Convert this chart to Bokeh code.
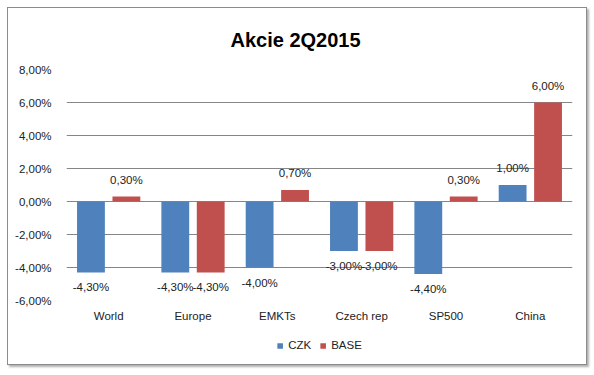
from bokeh.plotting import figure
from bokeh.layouts import column
from bokeh.models import ColumnDataSource, FixedTicker, Range1d, FactorRange, Legend, LegendItem
from bokeh.transform import dodge
from bokeh.core.properties import value
from bokeh.embed import file_html
from bokeh.resources import INLINE

categories = ["World", "Europe", "EMKTs", "Czech rep", "SP500", "China"]
czk = [-4.30, -4.30, -4.00, -3.00, -4.40, 1.00]
base = [0.30, -4.30, 0.70, -3.00, 0.30, 6.00]
y_ticks = [-6, -4, -2, 0, 2, 4, 6, 8]
series_names = ["CZK", "BASE"]
title_text = "Akcie 2Q2015"


def pct(v):
    return f"{v:.2f}".replace(".", ",") + "%"


FONT = "Liberation Sans"
BLUE = "#4F81BD"
RED = "#C0504D"
TXT = "#222222"

p = figure(
    x_range=FactorRange(*categories, range_padding=0),
    y_range=Range1d(-6, 8),
    width=578, height=318,
    output_backend="svg", toolbar_location=None,
    min_border_left=58, min_border_right=14, min_border_top=55, min_border_bottom=26,
)

p.title.text = title_text
p.title.align = "left"
p.title.offset = 164
p.title.text_font = FONT
p.title.text_font_size = "20px"
p.title.text_font_style = "bold"
p.title.text_color = "#000000"
p.title.standoff = 37

src = ColumnDataSource(dict(cat=categories, czk=czk, base=base))

r1 = p.vbar(x=dodge("cat", -0.21, range=p.x_range), top="czk", bottom=0, width=0.33,
            source=src, fill_color=BLUE, line_color=None)
r2 = p.vbar(x=dodge("cat", 0.21, range=p.x_range), top="base", bottom=0, width=0.33,
            source=src, fill_color=RED, line_color=None)

for vals, dx in ((czk, -0.21), (base, 0.21)):
    for positive in (True, False):
        idx = [i for i, v in enumerate(vals) if (v >= 0) == positive]
        s = ColumnDataSource(dict(cat=[categories[i] for i in idx],
                                  y=[vals[i] for i in idx],
                                  t=[pct(vals[i]) for i in idx]))
        p.text(x=dodge("cat", dx, range=p.x_range), y="y", text="t", source=s,
               text_align="center", text_baseline="middle",
               y_offset=-17 if positive else 15,
               text_font=value(FONT), text_font_size="11.5px", text_color=TXT)

p.yaxis.ticker = FixedTicker(ticks=y_ticks)
p.yaxis.major_label_overrides = {t: pct(t) for t in y_ticks}
p.yaxis.axis_line_color = None
p.yaxis.major_tick_line_color = None
p.yaxis.minor_tick_line_color = None
p.yaxis.major_label_standoff = 9
p.yaxis.major_label_text_font = FONT
p.yaxis.major_label_text_font_size = "11.5px"
p.yaxis.major_label_text_color = TXT

p.xaxis.axis_line_color = None
p.xaxis.major_tick_line_color = None
p.xaxis.major_label_standoff = 3
p.xaxis.major_label_text_font = FONT
p.xaxis.major_label_text_font_size = "11.5px"
p.xaxis.major_label_text_color = TXT

p.xgrid.grid_line_color = None
p.ygrid.grid_line_color = "#868686"
p.ygrid.grid_line_width = 1
p.outline_line_color = None

# legend strip below the chart; the series copies lie outside its visible range
leg = figure(width=578, height=38, x_range=FactorRange(*categories, range_padding=0),
             y_range=Range1d(100, 101),
             x_axis_type=None, y_axis_type=None, output_backend="svg",
             toolbar_location=None, min_border=0)
leg.outline_line_color = None
leg.grid.grid_line_color = None
l1 = leg.vbar(x=dodge("cat", -0.21, range=leg.x_range), top="czk", bottom=0, width=0.33,
              source=src, fill_color=BLUE, line_color=None)
l2 = leg.vbar(x=dodge("cat", 0.21, range=leg.x_range), top="base", bottom=0, width=0.33,
              source=src, fill_color=RED, line_color=None)
legend = Legend(items=[LegendItem(label=series_names[0], renderers=[l1]),
                       LegendItem(label=series_names[1], renderers=[l2])],
                orientation="horizontal", location="center",
                glyph_width=7, glyph_height=7, label_text_font=FONT,
                label_text_font_size="11.5px", label_text_color=TXT,
                spacing=8, label_standoff=5, border_line_color=None,
                background_fill_alpha=0, margin=0, padding=4)
leg.add_layout(legend, "center")

layout = column(p, leg, spacing=0, margin=(7, 0, 0, 7))
layout.styles = {"border": "1px solid #8c8c8c", "box-shadow": "2px 2px 2px #b0b0b0",
                 "background": "white"}

open("out.html", "w").write(file_html(layout, INLINE))
